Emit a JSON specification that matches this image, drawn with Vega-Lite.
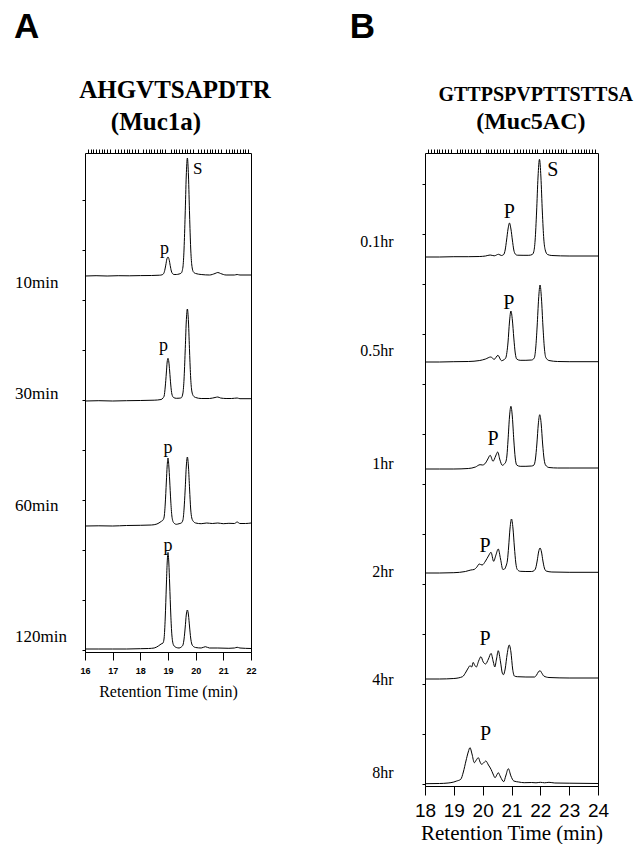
{
  "$schema": "https://vega.github.io/schema/vega-lite/v6.json",
  "padding": {"left": 13, "top": 9, "right": 0, "bottom": 0},
  "background": "white",
  "spacing": 174,
  "bounds": "flush",
  "datasets": {
    "a10": [{"t":16,"v":0},{"t":16.4,"v":0.3},{"t":16.8,"v":0},{"t":17.2,"v":0.3},{"t":17.6,"v":0.2},{"t":18,"v":0.4},{"t":18.4,"v":0.5},{"t":18.7,"v":0.8},{"t":18.78,"v":1.2},{"t":18.84,"v":2.3},{"t":18.88,"v":5.4},{"t":18.92,"v":10.9},{"t":18.96,"v":17},{"t":19,"v":19},{"t":19.04,"v":16.5},{"t":19.08,"v":10.5},{"t":19.12,"v":5},{"t":19.16,"v":2.5},{"t":19.22,"v":1.5},{"t":19.3,"v":1.5},{"t":19.4,"v":2},{"t":19.48,"v":3},{"t":19.54,"v":9},{"t":19.58,"v":27},{"t":19.62,"v":61},{"t":19.66,"v":100},{"t":19.7,"v":118},{"t":19.74,"v":100},{"t":19.78,"v":61},{"t":19.82,"v":28},{"t":19.86,"v":11},{"t":19.92,"v":4},{"t":20,"v":2.5},{"t":20.2,"v":1.5},{"t":20.5,"v":1},{"t":20.7,"v":2.5},{"t":20.8,"v":3.5},{"t":20.9,"v":2.5},{"t":21.1,"v":1},{"t":21.4,"v":1},{"t":21.5,"v":1.5},{"t":21.6,"v":1},{"t":22,"v":1}],
    "a30": [{"t":16,"v":0},{"t":16.5,"v":0.3},{"t":17,"v":0},{"t":17.5,"v":0.3},{"t":18,"v":0.5},{"t":18.5,"v":0.8},{"t":18.75,"v":1.5},{"t":18.82,"v":3},{"t":18.86,"v":5},{"t":18.9,"v":14},{"t":18.94,"v":28},{"t":18.97,"v":39},{"t":19,"v":42.7},{"t":19.03,"v":39},{"t":19.06,"v":30},{"t":19.1,"v":16},{"t":19.14,"v":7},{"t":19.2,"v":3.5},{"t":19.3,"v":2.7},{"t":19.4,"v":2.8},{"t":19.48,"v":3.2},{"t":19.54,"v":8},{"t":19.58,"v":22},{"t":19.62,"v":49},{"t":19.66,"v":79},{"t":19.7,"v":92},{"t":19.74,"v":79},{"t":19.78,"v":49},{"t":19.82,"v":23},{"t":19.86,"v":10},{"t":19.92,"v":5},{"t":20,"v":3.5},{"t":20.2,"v":2.5},{"t":20.5,"v":2.5},{"t":20.7,"v":3.5},{"t":20.8,"v":4},{"t":20.9,"v":3},{"t":21.1,"v":2.5},{"t":21.3,"v":2.5},{"t":21.5,"v":3},{"t":21.6,"v":2.3},{"t":22,"v":2.3}],
    "a60": [{"t":16,"v":0},{"t":16.5,"v":0.2},{"t":17,"v":0},{"t":17.5,"v":0.5},{"t":18,"v":0.7},{"t":18.4,"v":1},{"t":18.6,"v":2},{"t":18.75,"v":4.5},{"t":18.82,"v":6},{"t":18.86,"v":9},{"t":18.9,"v":22},{"t":18.94,"v":44},{"t":18.97,"v":60},{"t":19,"v":68},{"t":19.03,"v":60},{"t":19.06,"v":46},{"t":19.1,"v":25},{"t":19.14,"v":10},{"t":19.2,"v":3.5},{"t":19.3,"v":1.7},{"t":19.4,"v":2.3},{"t":19.48,"v":3},{"t":19.54,"v":6},{"t":19.58,"v":17},{"t":19.62,"v":36},{"t":19.66,"v":59},{"t":19.7,"v":69},{"t":19.74,"v":59},{"t":19.78,"v":37},{"t":19.82,"v":17},{"t":19.86,"v":8},{"t":19.92,"v":4.5},{"t":20,"v":3},{"t":20.2,"v":2.3},{"t":20.4,"v":3},{"t":20.6,"v":2.5},{"t":20.8,"v":3},{"t":21,"v":2.3},{"t":21.2,"v":2.7},{"t":21.4,"v":2.5},{"t":21.5,"v":4},{"t":21.6,"v":2.5},{"t":21.8,"v":2.5},{"t":22,"v":3}],
    "a120": [{"t":16,"v":1},{"t":16.5,"v":1},{"t":17,"v":1},{"t":17.5,"v":1},{"t":18,"v":1.3},{"t":18.3,"v":1.5},{"t":18.5,"v":2},{"t":18.65,"v":4},{"t":18.75,"v":6},{"t":18.82,"v":7},{"t":18.86,"v":12},{"t":18.9,"v":32},{"t":18.94,"v":64},{"t":18.97,"v":87},{"t":19,"v":97.6},{"t":19.03,"v":87},{"t":19.06,"v":66},{"t":19.1,"v":36},{"t":19.14,"v":15},{"t":19.2,"v":5},{"t":19.3,"v":2.5},{"t":19.4,"v":2},{"t":19.48,"v":3},{"t":19.54,"v":5},{"t":19.58,"v":11},{"t":19.62,"v":22},{"t":19.66,"v":35},{"t":19.7,"v":40},{"t":19.74,"v":35},{"t":19.78,"v":23},{"t":19.82,"v":12},{"t":19.86,"v":6},{"t":19.92,"v":3.5},{"t":20,"v":2.5},{"t":20.2,"v":2},{"t":20.35,"v":3.3},{"t":20.5,"v":2},{"t":20.8,"v":2},{"t":21.2,"v":1.7},{"t":21.4,"v":2},{"t":21.5,"v":2.7},{"t":21.6,"v":2},{"t":22,"v":1.5}],
    "b01": [{"t":18,"v":0},{"t":18.5,"v":0},{"t":19,"v":0.3},{"t":19.5,"v":0.3},{"t":19.9,"v":0.5},{"t":20.1,"v":1},{"t":20.26,"v":2},{"t":20.4,"v":1.2},{"t":20.55,"v":2.7},{"t":20.65,"v":1.5},{"t":20.73,"v":2.5},{"t":20.78,"v":7},{"t":20.83,"v":17},{"t":20.88,"v":28},{"t":20.93,"v":34},{"t":20.98,"v":28},{"t":21.03,"v":17},{"t":21.08,"v":7},{"t":21.13,"v":3},{"t":21.2,"v":1.8},{"t":21.4,"v":1.7},{"t":21.6,"v":1.7},{"t":21.72,"v":2.5},{"t":21.77,"v":5},{"t":21.82,"v":17},{"t":21.87,"v":45},{"t":21.92,"v":80},{"t":21.97,"v":97.7},{"t":22.02,"v":80},{"t":22.07,"v":45},{"t":22.12,"v":18},{"t":22.17,"v":7},{"t":22.25,"v":2.5},{"t":22.4,"v":1.5},{"t":23,"v":1},{"t":24,"v":1}],
    "b05": [{"t":18,"v":0},{"t":18.5,"v":0},{"t":19,"v":0.3},{"t":19.5,"v":0.5},{"t":19.9,"v":1.5},{"t":20.1,"v":3},{"t":20.28,"v":5},{"t":20.4,"v":2.7},{"t":20.53,"v":6.7},{"t":20.65,"v":1.3},{"t":20.75,"v":2.5},{"t":20.8,"v":4},{"t":20.84,"v":9.5},{"t":20.88,"v":20},{"t":20.93,"v":40},{"t":20.98,"v":51},{"t":21.03,"v":42},{"t":21.08,"v":24},{"t":21.13,"v":9},{"t":21.18,"v":3},{"t":21.3,"v":1.7},{"t":21.5,"v":1.7},{"t":21.7,"v":2},{"t":21.79,"v":4},{"t":21.84,"v":14},{"t":21.89,"v":36},{"t":21.94,"v":63},{"t":21.99,"v":77},{"t":22.04,"v":63},{"t":22.09,"v":36},{"t":22.14,"v":14},{"t":22.19,"v":4.5},{"t":22.3,"v":1.5},{"t":22.6,"v":0.5},{"t":23,"v":0.3},{"t":24,"v":0.3}],
    "b1": [{"t":18,"v":0},{"t":18.5,"v":0},{"t":19,"v":0},{"t":19.5,"v":0.5},{"t":19.75,"v":2},{"t":19.91,"v":4.3},{"t":20,"v":4},{"t":20.1,"v":6},{"t":20.18,"v":10},{"t":20.26,"v":13.7},{"t":20.36,"v":7.7},{"t":20.45,"v":13},{"t":20.52,"v":17},{"t":20.6,"v":9},{"t":20.68,"v":3.7},{"t":20.75,"v":5},{"t":20.8,"v":7},{"t":20.84,"v":13},{"t":20.88,"v":29},{"t":20.93,"v":52},{"t":20.98,"v":62.7},{"t":21.03,"v":52},{"t":21.08,"v":29},{"t":21.13,"v":11},{"t":21.18,"v":4},{"t":21.3,"v":2.7},{"t":21.5,"v":2.7},{"t":21.7,"v":3},{"t":21.78,"v":4},{"t":21.83,"v":10},{"t":21.88,"v":25},{"t":21.93,"v":45},{"t":21.98,"v":54.3},{"t":22.03,"v":45},{"t":22.08,"v":25},{"t":22.13,"v":10},{"t":22.18,"v":4},{"t":22.3,"v":1.5},{"t":22.6,"v":1},{"t":23,"v":1},{"t":24,"v":1}],
    "b2": [{"t":18,"v":0},{"t":18.5,"v":0},{"t":19,"v":0.3},{"t":19.4,"v":1.5},{"t":19.59,"v":3},{"t":19.7,"v":3.5},{"t":19.8,"v":6},{"t":19.88,"v":9},{"t":19.98,"v":8},{"t":20.1,"v":12},{"t":20.2,"v":17},{"t":20.29,"v":20.7},{"t":20.38,"v":11.7},{"t":20.46,"v":18},{"t":20.54,"v":24},{"t":20.62,"v":14},{"t":20.7,"v":3.5},{"t":20.76,"v":4},{"t":20.81,"v":7},{"t":20.86,"v":13},{"t":20.9,"v":26},{"t":20.95,"v":45},{"t":21,"v":54},{"t":21.05,"v":45},{"t":21.1,"v":26},{"t":21.15,"v":10},{"t":21.2,"v":3.5},{"t":21.3,"v":1.7},{"t":21.5,"v":1.5},{"t":21.7,"v":1.5},{"t":21.79,"v":2.5},{"t":21.84,"v":5},{"t":21.89,"v":12},{"t":21.94,"v":21},{"t":21.99,"v":25},{"t":22.04,"v":21},{"t":22.09,"v":12},{"t":22.14,"v":5},{"t":22.2,"v":2},{"t":22.4,"v":1},{"t":23,"v":0.7},{"t":24,"v":0.7}],
    "b4": [{"t":18,"v":0},{"t":18.5,"v":0},{"t":19,"v":0.5},{"t":19.3,"v":2.3},{"t":19.42,"v":7},{"t":19.5,"v":11},{"t":19.56,"v":13.3},{"t":19.62,"v":12},{"t":19.67,"v":16.6},{"t":19.72,"v":14},{"t":19.78,"v":12},{"t":19.86,"v":18},{"t":19.94,"v":22.3},{"t":20.02,"v":17},{"t":20.1,"v":15},{"t":20.2,"v":20},{"t":20.29,"v":25.6},{"t":20.37,"v":17},{"t":20.42,"v":12},{"t":20.48,"v":20},{"t":20.54,"v":28.3},{"t":20.62,"v":17},{"t":20.68,"v":6},{"t":20.72,"v":4.3},{"t":20.78,"v":10},{"t":20.85,"v":25},{"t":20.92,"v":34},{"t":20.98,"v":27},{"t":21.04,"v":10},{"t":21.1,"v":3},{"t":21.2,"v":2.3},{"t":21.5,"v":2},{"t":21.8,"v":2},{"t":21.87,"v":4},{"t":21.93,"v":7},{"t":21.99,"v":8.3},{"t":22.05,"v":6},{"t":22.12,"v":3},{"t":22.3,"v":1.5},{"t":23,"v":1},{"t":24,"v":1}],
    "b8": [{"t":18,"v":0.3},{"t":18.5,"v":0.5},{"t":18.8,"v":1},{"t":19,"v":2},{"t":19.1,"v":3},{"t":19.24,"v":4.7},{"t":19.33,"v":12},{"t":19.42,"v":23},{"t":19.5,"v":32},{"t":19.56,"v":36.3},{"t":19.63,"v":30},{"t":19.71,"v":21.3},{"t":19.78,"v":24},{"t":19.85,"v":26.3},{"t":19.91,"v":22},{"t":19.96,"v":19.7},{"t":20.03,"v":21},{"t":20.11,"v":23},{"t":20.2,"v":19},{"t":20.29,"v":14.7},{"t":20.36,"v":10},{"t":20.43,"v":6.3},{"t":20.49,"v":9},{"t":20.54,"v":11.3},{"t":20.62,"v":7},{"t":20.73,"v":2.3},{"t":20.8,"v":8},{"t":20.89,"v":15.3},{"t":20.98,"v":8},{"t":21.08,"v":3},{"t":21.25,"v":2},{"t":21.44,"v":1.3},{"t":21.7,"v":1.5},{"t":21.85,"v":1.2},{"t":22,"v":1.7},{"t":22.15,"v":1.2},{"t":22.3,"v":1.7},{"t":22.5,"v":1},{"t":23,"v":0.8},{"t":24,"v":0.5}]
  },
  "hconcat": [
    {
      "width": 166,
      "height": 499,
      "resolve": {"scale": {"y": "independent"}, "axis": {"x": "independent", "y": "independent"}},
      "layer": [
        {"data": {"name": "a10"}, "mark": {"type": "line", "color": "black", "strokeWidth": 1, "interpolate": "monotone"},
          "encoding": {
            "x": {"field": "t", "type": "quantitative", "scale": {"domain": [16, 22], "nice": false, "zero": false},
              "axis": {"values": [16, 17, 18, 19, 20, 21, 22], "format": "d", "labelFont": "Liberation Sans", "labelFontWeight": "bold", "labelFontSize": 9, "labelPadding": 6, "labelFlush": false, "tickSize": 8, "title": "Retention Time (min)", "titleFont": "Liberation Serif", "titleFontSize": 16, "titleFontWeight": "normal", "titlePadding": 8}},
            "y": {"field": "v", "type": "quantitative", "scale": {"domain": [-376, 123], "nice": false, "zero": false}, "axis": null}}},
        {"data": {"name": "a30"}, "mark": {"type": "line", "color": "black", "strokeWidth": 1, "interpolate": "monotone"},
          "encoding": {
            "x": {"field": "t", "type": "quantitative", "scale": {"domain": [16, 22], "nice": false, "zero": false},
              "axis": {"values": [16.1,16.2,16.3,16.4,16.5,16.6,16.7,16.8,16.9,17.1,17.2,17.3,17.4,17.5,17.6,17.7,17.8,17.9,18.1,18.2,18.3,18.4,18.5,18.6,18.7,18.8,18.9,19.1,19.2,19.3,19.4,19.5,19.6,19.7,19.8,19.9,20.1,20.2,20.3,20.4,20.5,20.6,20.7,20.8,20.9,21.1,21.2,21.3,21.4,21.5,21.6,21.7,21.8,21.9], "labels": false, "domain": false, "tickSize": 4, "title": null}},
            "y": {"field": "v", "type": "quantitative", "scale": {"domain": [-251, 248], "nice": false, "zero": false}, "axis": null}}},
        {"data": {"name": "a60"}, "mark": {"type": "line", "color": "black", "strokeWidth": 1, "interpolate": "monotone"},
          "encoding": {
            "x": {"field": "t", "type": "quantitative", "scale": {"domain": [16, 22], "nice": false, "zero": false}, "axis": null},
            "y": {"field": "v", "type": "quantitative", "scale": {"domain": [-126, 373], "nice": false, "zero": false}, "axis": null}}},
        {"data": {"name": "a120"}, "mark": {"type": "line", "color": "black", "strokeWidth": 1, "interpolate": "monotone"},
          "encoding": {
            "x": {"field": "t", "type": "quantitative", "scale": {"domain": [16, 22], "nice": false, "zero": false}, "axis": null},
            "y": {"field": "v", "type": "quantitative", "scale": {"domain": [-2, 497], "nice": false, "zero": false}, "axis": {"tickCount": 10, "labels": false, "domain": false, "grid": false, "tickSize": 3, "title": null}}}},
        {"data": {"values": [{"label": "A"}]}, "mark": {"type": "text", "font": "Liberation Sans", "fontWeight": "bold", "fontSize": 35, "align": "left", "baseline": "alphabetic", "color": "black"},
          "encoding": {"text": {"field": "label"}, "x": {"datum": 13.43, "scale": {"domain": [16, 22], "nice": false, "zero": false}, "axis": null}, "y": {"datum": 238, "scale": {"domain": [-376, 123], "nice": false, "zero": false}, "axis": null}}},
        {"data": {"values": [{"label": "AHGVTSAPDTR"}]}, "mark": {"type": "text", "font": "Liberation Serif", "fontWeight": "bold", "fontSize": 25, "align": "center", "baseline": "alphabetic", "color": "black"},
          "encoding": {"text": {"field": "label"}, "x": {"datum": 19.253, "scale": {"domain": [16, 22], "nice": false, "zero": false}, "axis": null}, "y": {"datum": 178, "scale": {"domain": [-376, 123], "nice": false, "zero": false}, "axis": null}}},
        {"data": {"values": [{"label": "(Muc1a)"}]}, "mark": {"type": "text", "font": "Liberation Serif", "fontWeight": "bold", "fontSize": 25, "align": "center", "baseline": "alphabetic", "color": "black"},
          "encoding": {"text": {"field": "label"}, "x": {"datum": 18.566, "scale": {"domain": [16, 22], "nice": false, "zero": false}, "axis": null}, "y": {"datum": 146, "scale": {"domain": [-376, 123], "nice": false, "zero": false}, "axis": null}}},
        {"data": {"values": [{"label": "10min"}]}, "mark": {"type": "text", "font": "Liberation Serif", "fontSize": 17, "align": "left", "baseline": "alphabetic", "color": "black"},
          "encoding": {"text": {"field": "label"}, "x": {"datum": 13.47, "scale": {"domain": [16, 22], "nice": false, "zero": false}, "axis": null}, "y": {"datum": -12, "scale": {"domain": [-376, 123], "nice": false, "zero": false}, "axis": null}}},
        {"data": {"values": [{"label": "p"}]}, "mark": {"type": "text", "font": "Liberation Serif", "fontSize": 18, "align": "center", "baseline": "alphabetic", "color": "black"},
          "encoding": {"text": {"field": "label"}, "x": {"datum": 18.87, "scale": {"domain": [16, 22], "nice": false, "zero": false}, "axis": null}, "y": {"datum": 22, "scale": {"domain": [-376, 123], "nice": false, "zero": false}, "axis": null}}},
        {"data": {"values": [{"label": "S"}]}, "mark": {"type": "text", "font": "Liberation Serif", "fontSize": 17, "align": "left", "baseline": "alphabetic", "color": "black"},
          "encoding": {"text": {"field": "label"}, "x": {"datum": 19.9, "scale": {"domain": [16, 22], "nice": false, "zero": false}, "axis": null}, "y": {"datum": 102, "scale": {"domain": [-376, 123], "nice": false, "zero": false}, "axis": null}}},
        {"data": {"values": [{"label": "30min"}]}, "mark": {"type": "text", "font": "Liberation Serif", "fontSize": 17, "align": "left", "baseline": "alphabetic", "color": "black"},
          "encoding": {"text": {"field": "label"}, "x": {"datum": 13.47, "scale": {"domain": [16, 22], "nice": false, "zero": false}, "axis": null}, "y": {"datum": 2, "scale": {"domain": [-251, 248], "nice": false, "zero": false}, "axis": null}}},
        {"data": {"values": [{"label": "p"}]}, "mark": {"type": "text", "font": "Liberation Serif", "fontSize": 18, "align": "center", "baseline": "alphabetic", "color": "black"},
          "encoding": {"text": {"field": "label"}, "x": {"datum": 18.84, "scale": {"domain": [16, 22], "nice": false, "zero": false}, "axis": null}, "y": {"datum": 50, "scale": {"domain": [-251, 248], "nice": false, "zero": false}, "axis": null}}},
        {"data": {"values": [{"label": "60min"}]}, "mark": {"type": "text", "font": "Liberation Serif", "fontSize": 17, "align": "left", "baseline": "alphabetic", "color": "black"},
          "encoding": {"text": {"field": "label"}, "x": {"datum": 13.47, "scale": {"domain": [16, 22], "nice": false, "zero": false}, "axis": null}, "y": {"datum": 15, "scale": {"domain": [-126, 373], "nice": false, "zero": false}, "axis": null}}},
        {"data": {"values": [{"label": "p"}]}, "mark": {"type": "text", "font": "Liberation Serif", "fontSize": 18, "align": "center", "baseline": "alphabetic", "color": "black"},
          "encoding": {"text": {"field": "label"}, "x": {"datum": 19.0, "scale": {"domain": [16, 22], "nice": false, "zero": false}, "axis": null}, "y": {"datum": 73, "scale": {"domain": [-126, 373], "nice": false, "zero": false}, "axis": null}}},
        {"data": {"values": [{"label": "120min"}]}, "mark": {"type": "text", "font": "Liberation Serif", "fontSize": 17, "align": "left", "baseline": "alphabetic", "color": "black"},
          "encoding": {"text": {"field": "label"}, "x": {"datum": 13.47, "scale": {"domain": [16, 22], "nice": false, "zero": false}, "axis": null}, "y": {"datum": 8, "scale": {"domain": [-2, 497], "nice": false, "zero": false}, "axis": null}}},
        {"data": {"values": [{"label": "p"}]}, "mark": {"type": "text", "font": "Liberation Serif", "fontSize": 18, "align": "center", "baseline": "alphabetic", "color": "black"},
          "encoding": {"text": {"field": "label"}, "x": {"datum": 19.0, "scale": {"domain": [16, 22], "nice": false, "zero": false}, "axis": null}, "y": {"datum": 99, "scale": {"domain": [-2, 497], "nice": false, "zero": false}, "axis": null}}}
      ]
    },
    {
      "width": 173,
      "height": 633,
      "resolve": {"scale": {"y": "independent"}, "axis": {"x": "independent", "y": "independent"}},
      "layer": [
        {"data": {"name": "b01"}, "mark": {"type": "line", "color": "black", "strokeWidth": 1, "interpolate": "monotone"},
          "encoding": {
            "x": {"field": "t", "type": "quantitative", "scale": {"domain": [18, 24], "nice": false, "zero": false},
              "axis": {"values": [18, 19, 20, 21, 22, 23, 24], "format": "d", "labelFont": "Liberation Sans", "labelFontSize": 19, "labelPadding": 6, "labelFlush": false, "tickSize": 9, "title": "Retention Time (min)", "titleFont": "Liberation Serif", "titleFontSize": 21, "titleFontWeight": "normal", "titlePadding": 2}},
            "y": {"field": "v", "type": "quantitative", "scale": {"domain": [-529, 104], "nice": false, "zero": false}, "axis": null}}},
        {"data": {"name": "b05"}, "mark": {"type": "line", "color": "black", "strokeWidth": 1, "interpolate": "monotone"},
          "encoding": {
            "x": {"field": "t", "type": "quantitative", "scale": {"domain": [18, 24], "nice": false, "zero": false},
              "axis": {"values": [18.1,18.2,18.3,18.4,18.5,18.6,18.7,18.8,18.9,19.1,19.2,19.3,19.4,19.5,19.6,19.7,19.8,19.9,20.1,20.2,20.3,20.4,20.5,20.6,20.7,20.8,20.9,21.1,21.2,21.3,21.4,21.5,21.6,21.7,21.8,21.9,22.1,22.2,22.3,22.4,22.5,22.6,22.7,22.8,22.9,23.1,23.2,23.3,23.4,23.5,23.6,23.7,23.8,23.9], "labels": false, "domain": false, "tickSize": 4, "title": null}},
            "y": {"field": "v", "type": "quantitative", "scale": {"domain": [-424, 209], "nice": false, "zero": false}, "axis": null}}},
        {"data": {"name": "b1"}, "mark": {"type": "line", "color": "black", "strokeWidth": 1, "interpolate": "monotone"},
          "encoding": {
            "x": {"field": "t", "type": "quantitative", "scale": {"domain": [18, 24], "nice": false, "zero": false}, "axis": null},
            "y": {"field": "v", "type": "quantitative", "scale": {"domain": [-317, 316], "nice": false, "zero": false}, "axis": null}}},
        {"data": {"name": "b2"}, "mark": {"type": "line", "color": "black", "strokeWidth": 1, "interpolate": "monotone"},
          "encoding": {
            "x": {"field": "t", "type": "quantitative", "scale": {"domain": [18, 24], "nice": false, "zero": false}, "axis": null},
            "y": {"field": "v", "type": "quantitative", "scale": {"domain": [-213, 420], "nice": false, "zero": false}, "axis": null}}},
        {"data": {"name": "b4"}, "mark": {"type": "line", "color": "black", "strokeWidth": 1, "interpolate": "monotone"},
          "encoding": {
            "x": {"field": "t", "type": "quantitative", "scale": {"domain": [18, 24], "nice": false, "zero": false}, "axis": null},
            "y": {"field": "v", "type": "quantitative", "scale": {"domain": [-107, 526], "nice": false, "zero": false}, "axis": null}}},
        {"data": {"name": "b8"}, "mark": {"type": "line", "color": "black", "strokeWidth": 1, "interpolate": "monotone"},
          "encoding": {
            "x": {"field": "t", "type": "quantitative", "scale": {"domain": [18, 24], "nice": false, "zero": false}, "axis": null},
            "y": {"field": "v", "type": "quantitative", "scale": {"domain": [-2, 631], "nice": false, "zero": false}, "axis": {"tickCount": 12, "labels": false, "domain": false, "grid": false, "tickSize": 3, "title": null}}}},
        {"data": {"values": [{"label": "B"}]}, "mark": {"type": "text", "font": "Liberation Sans", "fontWeight": "bold", "fontSize": 35, "align": "left", "baseline": "alphabetic", "color": "black"},
          "encoding": {"text": {"field": "label"}, "x": {"datum": 15.388, "scale": {"domain": [18, 24], "nice": false, "zero": false}, "axis": null}, "y": {"datum": 219, "scale": {"domain": [-529, 104], "nice": false, "zero": false}, "axis": null}}},
        {"data": {"values": [{"label": "GTTPSPVPTTSTTSA"}]}, "mark": {"type": "text", "font": "Liberation Serif", "fontWeight": "bold", "fontSize": 20, "align": "center", "baseline": "alphabetic", "color": "black"},
          "encoding": {"text": {"field": "label"}, "x": {"datum": 21.84, "scale": {"domain": [18, 24], "nice": false, "zero": false}, "axis": null}, "y": {"datum": 156, "scale": {"domain": [-529, 104], "nice": false, "zero": false}, "axis": null}}},
        {"data": {"values": [{"label": "(Muc5AC)"}]}, "mark": {"type": "text", "font": "Liberation Serif", "fontWeight": "bold", "fontSize": 24, "align": "center", "baseline": "alphabetic", "color": "black"},
          "encoding": {"text": {"field": "label"}, "x": {"datum": 21.67, "scale": {"domain": [18, 24], "nice": false, "zero": false}, "axis": null}, "y": {"datum": 128, "scale": {"domain": [-529, 104], "nice": false, "zero": false}, "axis": null}}},
        {"data": {"values": [{"label": "0.1hr"}]}, "mark": {"type": "text", "font": "Liberation Serif", "fontSize": 16, "align": "right", "baseline": "alphabetic", "color": "black"},
          "encoding": {"text": {"field": "label"}, "x": {"datum": 16.914, "scale": {"domain": [18, 24], "nice": false, "zero": false}, "axis": null}, "y": {"datum": 10, "scale": {"domain": [-529, 104], "nice": false, "zero": false}, "axis": null}}},
        {"data": {"values": [{"label": "P"}]}, "mark": {"type": "text", "font": "Liberation Serif", "fontSize": 20, "align": "center", "baseline": "alphabetic", "color": "black"},
          "encoding": {"text": {"field": "label"}, "x": {"datum": 20.92, "scale": {"domain": [18, 24], "nice": false, "zero": false}, "axis": null}, "y": {"datum": 39, "scale": {"domain": [-529, 104], "nice": false, "zero": false}, "axis": null}}},
        {"data": {"values": [{"label": "S"}]}, "mark": {"type": "text", "font": "Liberation Serif", "fontSize": 20, "align": "left", "baseline": "alphabetic", "color": "black"},
          "encoding": {"text": {"field": "label"}, "x": {"datum": 22.24, "scale": {"domain": [18, 24], "nice": false, "zero": false}, "axis": null}, "y": {"datum": 81, "scale": {"domain": [-529, 104], "nice": false, "zero": false}, "axis": null}}},
        {"data": {"values": [{"label": "0.5hr"}]}, "mark": {"type": "text", "font": "Liberation Serif", "fontSize": 16, "align": "right", "baseline": "alphabetic", "color": "black"},
          "encoding": {"text": {"field": "label"}, "x": {"datum": 16.914, "scale": {"domain": [18, 24], "nice": false, "zero": false}, "axis": null}, "y": {"datum": 6, "scale": {"domain": [-424, 209], "nice": false, "zero": false}, "axis": null}}},
        {"data": {"values": [{"label": "P"}]}, "mark": {"type": "text", "font": "Liberation Serif", "fontSize": 20, "align": "center", "baseline": "alphabetic", "color": "black"},
          "encoding": {"text": {"field": "label"}, "x": {"datum": 20.91, "scale": {"domain": [18, 24], "nice": false, "zero": false}, "axis": null}, "y": {"datum": 53, "scale": {"domain": [-424, 209], "nice": false, "zero": false}, "axis": null}}},
        {"data": {"values": [{"label": "1hr"}]}, "mark": {"type": "text", "font": "Liberation Serif", "fontSize": 16, "align": "right", "baseline": "alphabetic", "color": "black"},
          "encoding": {"text": {"field": "label"}, "x": {"datum": 16.914, "scale": {"domain": [18, 24], "nice": false, "zero": false}, "axis": null}, "y": {"datum": 0, "scale": {"domain": [-317, 316], "nice": false, "zero": false}, "axis": null}}},
        {"data": {"values": [{"label": "P"}]}, "mark": {"type": "text", "font": "Liberation Serif", "fontSize": 20, "align": "center", "baseline": "alphabetic", "color": "black"},
          "encoding": {"text": {"field": "label"}, "x": {"datum": 20.36, "scale": {"domain": [18, 24], "nice": false, "zero": false}, "axis": null}, "y": {"datum": 24, "scale": {"domain": [-317, 316], "nice": false, "zero": false}, "axis": null}}},
        {"data": {"values": [{"label": "2hr"}]}, "mark": {"type": "text", "font": "Liberation Serif", "fontSize": 16, "align": "right", "baseline": "alphabetic", "color": "black"},
          "encoding": {"text": {"field": "label"}, "x": {"datum": 16.914, "scale": {"domain": [18, 24], "nice": false, "zero": false}, "axis": null}, "y": {"datum": -4, "scale": {"domain": [-213, 420], "nice": false, "zero": false}, "axis": null}}},
        {"data": {"values": [{"label": "P"}]}, "mark": {"type": "text", "font": "Liberation Serif", "fontSize": 20, "align": "center", "baseline": "alphabetic", "color": "black"},
          "encoding": {"text": {"field": "label"}, "x": {"datum": 20.08, "scale": {"domain": [18, 24], "nice": false, "zero": false}, "axis": null}, "y": {"datum": 21, "scale": {"domain": [-213, 420], "nice": false, "zero": false}, "axis": null}}},
        {"data": {"values": [{"label": "4hr"}]}, "mark": {"type": "text", "font": "Liberation Serif", "fontSize": 16, "align": "right", "baseline": "alphabetic", "color": "black"},
          "encoding": {"text": {"field": "label"}, "x": {"datum": 16.914, "scale": {"domain": [18, 24], "nice": false, "zero": false}, "axis": null}, "y": {"datum": -6, "scale": {"domain": [-107, 526], "nice": false, "zero": false}, "axis": null}}},
        {"data": {"values": [{"label": "P"}]}, "mark": {"type": "text", "font": "Liberation Serif", "fontSize": 20, "align": "center", "baseline": "alphabetic", "color": "black"},
          "encoding": {"text": {"field": "label"}, "x": {"datum": 20.08, "scale": {"domain": [18, 24], "nice": false, "zero": false}, "axis": null}, "y": {"datum": 34, "scale": {"domain": [-107, 526], "nice": false, "zero": false}, "axis": null}}},
        {"data": {"values": [{"label": "8hr"}]}, "mark": {"type": "text", "font": "Liberation Serif", "fontSize": 16, "align": "right", "baseline": "alphabetic", "color": "black"},
          "encoding": {"text": {"field": "label"}, "x": {"datum": 16.914, "scale": {"domain": [18, 24], "nice": false, "zero": false}, "axis": null}, "y": {"datum": 6, "scale": {"domain": [-2, 631], "nice": false, "zero": false}, "axis": null}}},
        {"data": {"values": [{"label": "P"}]}, "mark": {"type": "text", "font": "Liberation Serif", "fontSize": 20, "align": "center", "baseline": "alphabetic", "color": "black"},
          "encoding": {"text": {"field": "label"}, "x": {"datum": 20.1, "scale": {"domain": [18, 24], "nice": false, "zero": false}, "axis": null}, "y": {"datum": 44, "scale": {"domain": [-2, 631], "nice": false, "zero": false}, "axis": null}}}
      ]
    }
  ],
  "config": {
    "view": {"stroke": "black", "strokeWidth": 1},
    "axis": {"domainColor": "black", "tickColor": "black", "labelColor": "black", "titleColor": "black", "grid": false, "domainWidth": 1, "tickWidth": 1}
  }
}
